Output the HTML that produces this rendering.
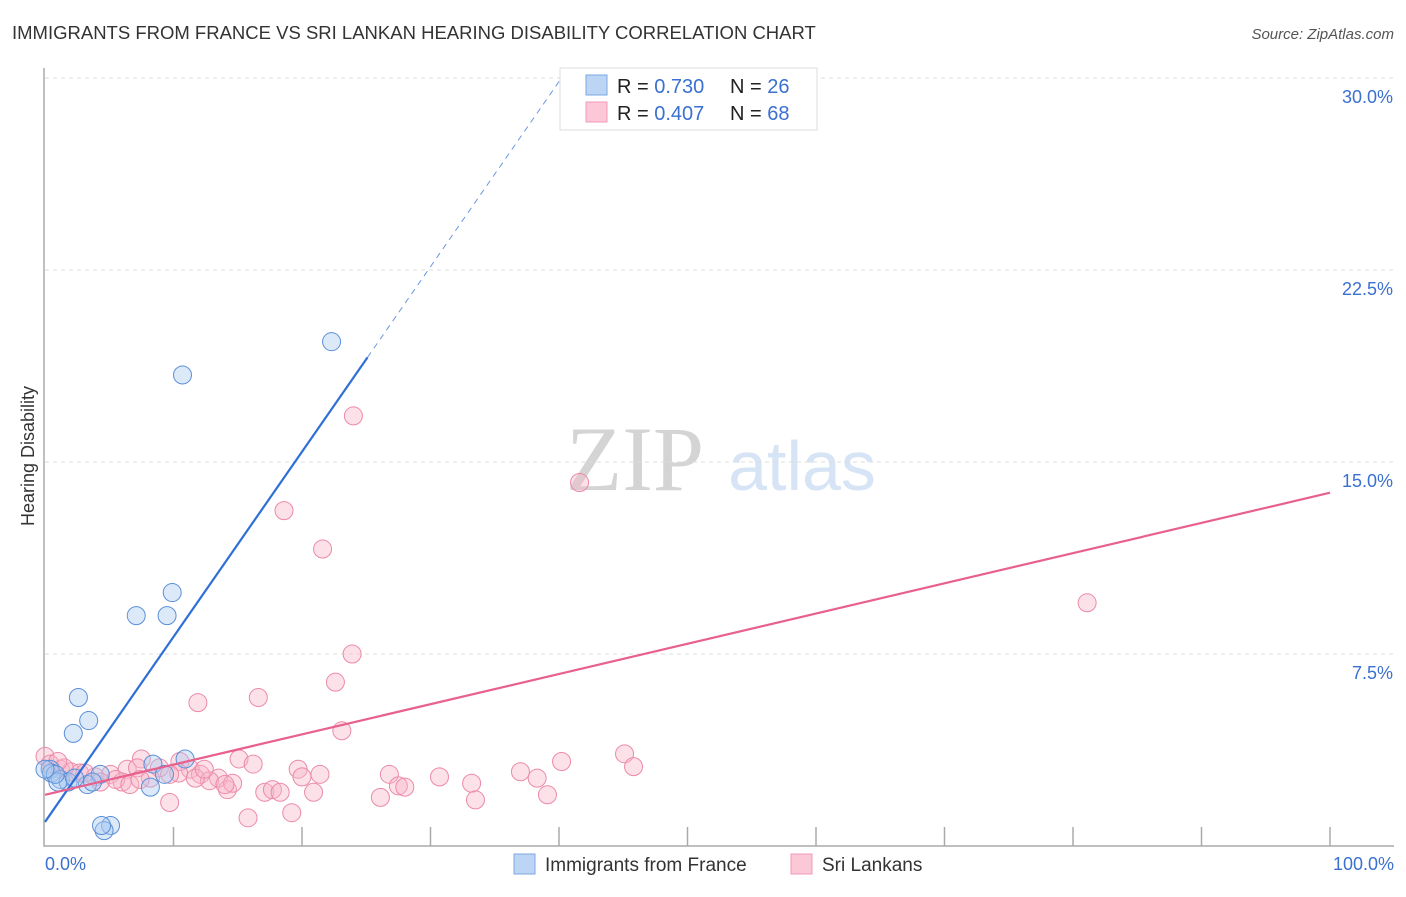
<!DOCTYPE html>
<html><head><meta charset="utf-8">
<style>
body{margin:0;background:#fff;width:1406px;height:892px;overflow:hidden;font-family:"Liberation Sans",sans-serif;}
svg text{font-family:"Liberation Sans",sans-serif;}
</style></head>
<body>
<svg id="chart" width="1406" height="892" xmlns="http://www.w3.org/2000/svg">
<text x="12" y="39" font-size="18.5" fill="#333">IMMIGRANTS FROM FRANCE VS SRI LANKAN HEARING DISABILITY CORRELATION CHART</text>
<text x="1394" y="39" font-size="15" fill="#555" text-anchor="end" font-style="italic">Source: ZipAtlas.com</text>
<text transform="translate(34,456) rotate(-90)" font-size="18" fill="#333" text-anchor="middle">Hearing Disability</text>
<g>
<text x="635" y="490" font-size="92" fill="#d4d4d4" font-family="Liberation Serif" text-anchor="middle" style="font-family:'Liberation Serif',serif">ZIP</text>
<text x="802" y="490" font-size="70" fill="#d6e4f5" text-anchor="middle">atlas</text>
</g>
<g id="grid"></g>
<g id="marks"></g>
<g>
<rect x="560" y="68" width="257" height="62" fill="#fff" stroke="#ddd"/>
<rect x="586" y="75" width="21" height="20" fill="#bcd5f5" stroke="#7aa8e0"/>
<rect x="586" y="102" width="21" height="20" fill="#fcc8d8" stroke="#f09ab5"/>
<text x="617" y="93" font-size="20" fill="#222">R = <tspan fill="#3a70d0">0.730</tspan></text>
<text x="730" y="93" font-size="20" fill="#222">N = <tspan fill="#3a70d0">26</tspan></text>
<text x="617" y="120" font-size="20" fill="#222">R = <tspan fill="#3a70d0">0.407</tspan></text>
<text x="730" y="120" font-size="20" fill="#222">N = <tspan fill="#3a70d0">68</tspan></text>
</g>
<g>
<rect x="514" y="854" width="21" height="20" fill="#bcd5f5" stroke="#7aa8e0"/>
<text x="545" y="871" font-size="19" fill="#333">Immigrants from France</text>
<rect x="791" y="854" width="21" height="20" fill="#fcc8d8" stroke="#f09ab5"/>
<text x="822" y="871" font-size="19" fill="#333">Sri Lankans</text>
</g>
</svg>
<script>
const yTicks=[7.5,15,22.5,30];
const yTickLabels=["7.5%","15.0%","22.5%","30.0%"];
const xTickLabels=["0.0%","100.0%"];
const franceX=[22.3,10.7,9.9,7.1,9.5,2.6,3.4,2.2,10.9,8.4,0.4,0.5,1.2,1.8,3.3,1.0,4.3,9.3,8.2,3.7,5.1,4.6,4.4,0.8,2.3,0];
const franceY=[19.7,18.4,9.9,9.0,9.0,5.8,4.9,4.4,3.4,3.2,3.0,2.85,2.6,2.5,2.4,2.5,2.8,2.8,2.3,2.5,0.8,0.6,0.8,2.8,2.65,3.0];
const lankaX=[52.2,24.0,41.6,18.6,21.6,81.1,23.9,22.6,16.6,11.9,23.1,45.1,40.2,45.8,15.1,16.2,7.5,10.5,0,0.4,1.2,2.0,2.7,3.9,5.1,6.4,7.2,8.9,11.3,12.1,13.5,12.8,19.7,20.0,21.4,26.8,30.7,37.0,38.3,33.2,27.5,28.0,6.0,5.5,8.2,6.6,14.2,17.1,17.7,18.3,20.9,26.1,33.5,39.1,9.7,19.2,15.8,3.1,7.4,4.3,10.4,14.6,1.5,1.0,9.7,11.7,14.0,12.4];
const lankaY=[29.8,16.8,14.2,13.1,11.6,9.5,7.5,6.4,5.8,5.6,4.5,3.6,3.3,3.1,3.4,3.2,3.4,3.3,3.5,3.2,3.0,2.9,2.85,2.7,2.8,3.0,3.05,3.05,3.0,2.8,2.65,2.55,3.0,2.7,2.8,2.8,2.7,2.9,2.65,2.45,2.35,2.3,2.5,2.6,2.65,2.4,2.2,2.1,2.2,2.1,2.1,1.9,1.8,2.0,1.7,1.3,1.1,2.85,2.6,2.5,2.85,2.45,3.05,3.3,2.8,2.65,2.4,3.0];
const franceTrend=[0.94,0.723];
const lankaTrend=[2.0,0.118];
const X=v=>45+v*12.85, Y=v=>846-v*25.6;
const NS="http://www.w3.org/2000/svg";
const grid=document.getElementById('grid'), marks=document.getElementById('marks');
function mk(tag,attrs,parent){const e=document.createElementNS(NS,tag);for(const k in attrs)e.setAttribute(k,attrs[k]);parent.appendChild(e);return e;}
yTicks.forEach((t,i)=>{
 const l=mk('line',{x1:45,x2:1394,y1:Y(t),y2:Y(t),stroke:'#ddd','stroke-dasharray':'4,4'},grid);
 
 
 const tx=mk('text',{x:1393,y:Y(t)+25,'font-size':18,fill:'#3a70d0','text-anchor':'end'},grid);
 tx.textContent=yTickLabels[i];
 
 
});
const ax=mk('path',{d:'M44,68 V846 H1394',fill:'none',stroke:'#aaa','stroke-width':1.5},grid);


for(let i=1;i<=10;i++){
 const t=mk('line',{x1:X(i*10),x2:X(i*10),y1:827,y2:846,stroke:'#aaa','stroke-width':1.5},grid);
 
 
}
[[0,'start',45],[100,'end',1394]].forEach((a,i)=>{
 const tx=mk('text',{x:a[2],y:870,'font-size':18,fill:'#3a70d0','text-anchor':a[1]},grid);
 tx.textContent=xTickLabels[i];
 
 
});
function pts(xs,ys,fill,stroke,name){
 xs.forEach((x,i)=>{
  const c=mk('circle',{cx:X(x),cy:Y(ys[i]),r:9,fill:fill,'fill-opacity':0.4,stroke:stroke,'stroke-width':1},marks);
  
  
 });
}
pts(lankaX,lankaY,'#f8b4c8','#ec8aa8','srilankan-point');
pts(franceX,franceY,'#a8c8f0','#5a8fd8','france-point');
let l1=mk('line',{x1:X(0),y1:Y(franceTrend[0]),x2:X(25.1),y2:Y(franceTrend[0]+franceTrend[1]*25.1),stroke:'#2f6fd6','stroke-width':2.2},marks);


let l2=mk('line',{x1:X(25.1),y1:Y(franceTrend[0]+franceTrend[1]*25.1),x2:X(40.1),y2:Y(franceTrend[0]+franceTrend[1]*40.1),stroke:'#6a98e0','stroke-width':1,'stroke-dasharray':'6,5'},marks);


let l3=mk('line',{x1:X(0),y1:Y(lankaTrend[0]),x2:X(100),y2:Y(lankaTrend[0]+lankaTrend[1]*100),stroke:'#e8608c','stroke-width':2.2},marks);


</script>
</body></html>
